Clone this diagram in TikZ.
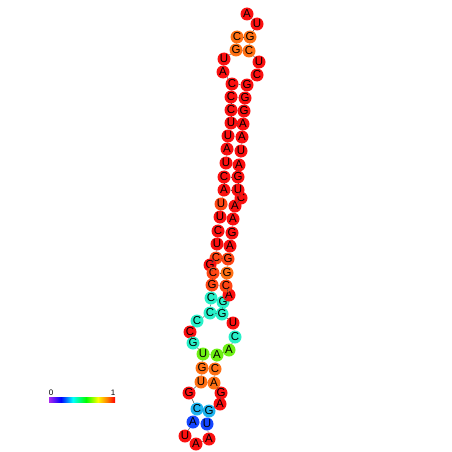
\documentclass[tikz,border=0pt]{standalone}
\usepackage{fontspec}
\setmainfont{Liberation Sans}
\definecolor{nRed}{RGB}{250,16,16}
\definecolor{nOrRed}{RGB}{255,70,20}
\definecolor{nOr}{RGB}{255,112,20}
\definecolor{nCyan}{RGB}{40,240,200}
\definecolor{nLime}{RGB}{110,240,20}
\definecolor{nSky}{RGB}{30,180,240}
\definecolor{nBlue}{RGB}{20,70,255}
\definecolor{nViolet}{RGB}{170,40,240}
\pgfdeclarehorizontalshading{rainbowbar}{100bp}{color(0bp)=(nViolet); color(25bp)=(nViolet); color(34bp)=(blue); color(43bp)=(cyan); color(53bp)=(green); color(62bp)=(yellow); color(69bp)=(orange); color(75bp)=(red); color(100bp)=(red)}
\tikzset{
  base/.style={circle, minimum size=13pt, inner sep=0pt, font=\fontsize{11.5}{11.5}\selectfont},
  bb/.style={draw=black!70, line width=0.5pt}
}
\begin{document}
\begin{tikzpicture}[x=1pt, y=-1pt]
        \useasboundingbox (0,0) rectangle (452,452);

        % Basi
        \foreach \x/\y/\b/\c [count=\i] in {
            237/37/C/nOr, 236/50/G/nOr, 224/59/U/nRed, 223/72/A/nRed,
            232/84/C/nRed, 231/97/C/nRed, 231/110/C/nRed, 231/123/U/nRed,
            228/136/U/nRed, 227/149/A/nRed, 226/163/U/nRed, 224/177/C/nRed,
            224/190/A/nRed, 221/204/U/nOrRed, 220/217/U/nRed, 218/231/C/nRed,
            217/244/U/nRed, 216/258/C/nOrRed, 210/265/G/nRed, 213/273/C/nOrRed,
            212/285/G/nOrRed, 211/298/C/nCyan, 210/313/C/nCyan, 197/321/C/nCyan,
            190/332/C/nRed, 193/343/G/nCyan, 203/354/U/nLime, 202/368/G/nOr,
            201/382/U/nOr, 189/393/G/nRed, 197/409/C/nSky, 193/422/A/nBlue,
            185/436/U/nRed, 196/444/A/nRed, 209/439/A/nRed, 207/424/U/nBlue,
            209/411/G/nSky, 220/404/A/nRed, 221/393/G/nRed, 214/383/A/nOr,
            215/369/C/nOr, 217/355/A/nLime, 229/350/A/nLime, 235/337/C/nCyan,
            233/323/U/nRed, 222/314/G/nCyan, 223/302/G/nCyan, 229/295/A/nRed,
            226/286/C/nOrRed, 227/273/G/nOr, 228/259/G/nOrRed, 230/246/A/nRed,
            232/233/G/nRed, 233/219/A/nRed, 235/206/A/nRed, 241/198/C/nRed,
            238/190/U/nRed, 238/177/G/nRed, 239/165/A/nRed, 241/151/U/nRed,
            242/137/A/nRed, 243/124/A/nRed, 244/111/G/nRed, 245/98/G/nRed,
            247/85/G/nRed, 257/75/C/nRed, 259/62/U/nRed, 249/51/C/nOr,
            250/37/G/nOr, 257/24/U/nRed, 247/14/A/nRed}
            \node[base, fill=\c] (n\i) at (\x,\y) {\b};

        % Scheletro
        \foreach \i [evaluate=\i as \j using int(\i+1)] in {1,...,70}
            \draw[bb] (n\i) -- (n\j);

        % Coppie
        \foreach \p/\q in {1/69, 2/68, 5/65, 6/64, 7/63, 8/62, 9/61, 10/60,
            11/59, 12/58, 13/57, 14/55, 15/54, 16/53, 17/52, 18/51, 20/50,
            21/49, 22/47, 23/46, 27/42, 28/41, 29/40, 31/37, 32/36}
            \draw[bb] (n\p) -- (n\q);

        % Scala di colori
        \shade[shading=rainbowbar] (49,397) rectangle (115,402);
        \node[font=\fontsize{8}{8}\selectfont] (lo) at (51,393) {0};
        \node[font=\fontsize{8}{8}\selectfont] (hi) at (113,393) {1};
\end{tikzpicture}
\end{document}
